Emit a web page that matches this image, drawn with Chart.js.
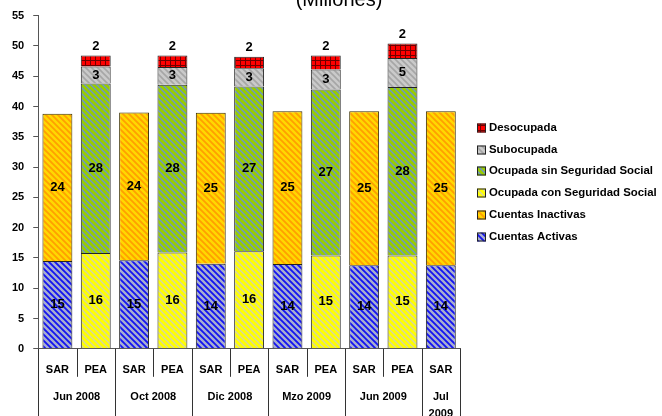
<!DOCTYPE html>
<html>
<head>
<meta charset="utf-8">
<script src="https://cdn.jsdelivr.net/npm/chart.js@4.4.0/dist/chart.umd.min.js"></script>
<style>
  html, body { margin: 0; padding: 0; background: #fff; }
  #wrap { width: 662px; height: 416px; }
</style>
</head>
<body>
<div id="wrap"><canvas id="grafica"></canvas></div>
<script>
// categorias del eje x (SAR / PEA por periodo)
var barras = ['SAR', 'PEA', 'SAR', 'PEA', 'SAR', 'PEA', 'SAR', 'PEA', 'SAR', 'PEA', 'SAR'];
var periodos = ['Jun 2008', 'Oct 2008', 'Dic 2008', 'Mzo 2009', 'Jun 2009', ['Jul', '2009']];
var periodoInicio = [0, 2, 4, 6, 8, 10]; // primer indice de cada periodo
var periodoFin = [2, 4, 6, 8, 10, 11];

// valores en millones
var cuentasActivas   = [14.5, null, 14.6, null, 14.05, null, 14.0, null, 13.8, null, 13.8];
var cuentasInactivas = [24.3, null, 24.4, null, 24.9, null, 25.2, null, 25.4, null, 25.4];
var ocupadaConSS     = [null, 15.8, null, 15.9, null, 16.1, null, 15.4, null, 15.4, null];
var ocupadaSinSS     = [null, 28.0, null, 27.7, null, 27.2, null, 27.4, null, 27.8, null];
var subocupada       = [null, 2.8, null, 2.9, null, 3.0, null, 3.3, null, 4.8, null];
var desocupada       = [null, 1.8, null, 1.9, null, 1.9, null, 2.3, null, 2.4, null];

var titulo = '(Millones)';

var ctx = document.getElementById('grafica').getContext('2d');

// tramas de relleno tipo Excel
function rayas(fondo, linea, s, w) {
    var c = document.createElement('canvas');
    c.width = s; c.height = s;
    var x = c.getContext('2d');
    x.fillStyle = fondo;
    x.fillRect(0, 0, s, s);
    x.strokeStyle = linea;
    x.lineWidth = w;
    x.beginPath();
    x.moveTo(-1, -1); x.lineTo(s + 1, s + 1);
    x.moveTo(-1, s - 1); x.lineTo(1, s + 1);
    x.moveTo(s - 1, -1); x.lineTo(s + 1, 1);
    x.stroke();
    return ctx.createPattern(c, 'repeat');
}

function cuadricula(fondo, linea, s) {
    var c = document.createElement('canvas');
    c.width = s; c.height = s;
    var x = c.getContext('2d');
    x.fillStyle = fondo;
    x.fillRect(0, 0, s, s);
    x.fillStyle = linea;
    x.fillRect(0, 0, s, 1);
    x.fillRect(0, 0, 1, s);
    return ctx.createPattern(c, 'repeat');
}

var fuente = 'Liberation Sans, Arial, sans-serif';

// etiquetas de valores sobre los segmentos
var etiquetas = {
    id: 'etiquetas',
    afterDatasetsDraw: function (chart) {
        var c = chart.ctx;
        c.save();
        c.font = 'bold 13px ' + fuente;
        c.fillStyle = '#000';
        c.textAlign = 'center';
        c.textBaseline = 'middle';
        chart.data.datasets.forEach(function (ds, i) {
            var meta = chart.getDatasetMeta(i);
            meta.data.forEach(function (el, j) {
                var v = ds.data[j];
                if (v === null) return;
                var txt = String(Math.round(v));
                if (ds.label === 'Desocupada') {
                    c.fillText(txt, el.x, el.y - 9);
                } else {
                    c.fillText(txt, el.x, (el.y + el.base) / 2);
                }
            });
        });
        c.restore();
    }
};

// eje x de dos niveles
var ejeGrupos = {
    id: 'ejeGrupos',
    afterDraw: function (chart) {
        var c = chart.ctx;
        var sx = chart.scales.x;
        var abajo = chart.chartArea.bottom;
        var paso = sx.getPixelForValue(1) - sx.getPixelForValue(0);
        c.save();
        c.strokeStyle = '#333';
        c.lineWidth = 1;
        // separadores cortos entre SAR y PEA
        for (var i = 1; i < barras.length; i++) {
            var px = Math.round(sx.getPixelForValue(i) - paso / 2) + 0.5;
            c.beginPath();
            c.moveTo(px, abajo);
            c.lineTo(px, abajo + 28);
            c.stroke();
        }
        // separadores largos entre periodos
        var bordes = [0].concat(periodoFin);
        bordes.forEach(function (b) {
            var px = Math.round(sx.getPixelForValue(b) - paso / 2) + 0.5;
            c.beginPath();
            c.moveTo(px, abajo);
            c.lineTo(px, chart.height);
            c.stroke();
        });
        c.font = 'bold 11px ' + fuente;
        c.fillStyle = '#000';
        c.textAlign = 'center';
        c.textBaseline = 'middle';
        periodos.forEach(function (p, k) {
            var x0 = sx.getPixelForValue(periodoInicio[k]) - paso / 2;
            var x1 = sx.getPixelForValue(periodoFin[k]) - paso / 2;
            var lineas = Array.isArray(p) ? p : [p];
            lineas.forEach(function (t, n) {
                c.fillText(t, (x0 + x1) / 2, abajo + 48 + n * 17);
            });
        });
        c.restore();
    }
};

// leyenda y titulo dibujados a mano (la leyenda nativa se recorta)
var leyenda = {
    id: 'leyenda',
    afterDraw: function (chart) {
        var c = chart.ctx;
        var area = chart.chartArea;
        var sets = chart.data.datasets.slice().reverse();
        var paso = 21.8;
        var x = area.right + 17;
        var y0 = (area.top + area.bottom) / 2 - paso * (sets.length - 1) / 2;
        c.save();
        c.font = 'bold 11.4px ' + fuente;
        c.textBaseline = 'middle';
        c.textAlign = 'left';
        sets.forEach(function (ds, k) {
            var y = Math.round(y0 + k * paso);
            c.fillStyle = ds.backgroundColor;
            c.fillRect(x, y - 4.5, 9, 9);
            c.strokeStyle = '#222';
            c.lineWidth = 1;
            c.strokeRect(x + 0.5, y - 4, 8, 8);
            c.fillStyle = '#000';
            c.fillText(ds.label, x + 12, y);
        });
        // titulo (cortado por el borde superior, como en el original)
        c.font = '20px ' + fuente;
        c.textAlign = 'center';
        c.textBaseline = 'alphabetic';
        c.fillText(titulo, 339, 6);
        c.restore();
    }
};

var borde = '#222';

new Chart(ctx, {
    type: 'bar',
    data: {
        labels: barras,
        datasets: [
            { label: 'Cuentas Activas', data: cuentasActivas, backgroundColor: rayas('#1414F0', '#A8AED0', 6, 2.4), borderColor: borde, borderWidth: 1 },
            { label: 'Cuentas Inactivas', data: cuentasInactivas, backgroundColor: rayas('#FFA000', '#FFD800', 6, 2.4), borderColor: '#3a3000', borderWidth: 1 },
            { label: 'Ocupada con Seguridad Social', data: ocupadaConSS, backgroundColor: rayas('#FFFF00', '#D4D4A8', 6, 1.3), borderColor: borde, borderWidth: 1 },
            { label: 'Ocupada sin Seguridad Social', data: ocupadaSinSS, backgroundColor: rayas('#99CC00', '#6A94D0', 6, 1.3), borderColor: borde, borderWidth: 1 },
            { label: 'Subocupada', data: subocupada, backgroundColor: rayas('#CACACA', '#A6A6A6', 6, 1.6), borderColor: borde, borderWidth: 1 },
            { label: 'Desocupada', data: desocupada, backgroundColor: cuadricula('#FF0000', '#700000', 5), borderColor: borde, borderWidth: 1 }
        ]
    },
    options: {
        responsive: true,
        maintainAspectRatio: false,
        animation: false,
        layout: { padding: { left: 3, top: 15, right: 202, bottom: 32 } },
        datasets: { bar: { barPercentage: 0.78, categoryPercentage: 1, skipNull: false } },
        scales: {
            x: {
                stacked: true,
                grid: { display: false },
                border: { display: true, color: '#555' },
                ticks: { color: '#000', font: { family: fuente, size: 11, weight: 'bold' }, padding: 7, maxRotation: 0, autoSkip: false }
            },
            y: {
                stacked: true,
                min: 0,
                max: 55,
                grid: { drawOnChartArea: false, drawTicks: true, tickLength: 5, color: '#555' },
                border: { display: true, color: '#555' },
                ticks: { stepSize: 5, color: '#000', font: { family: fuente, size: 11, weight: 'bold' }, padding: 9 }
            }
        },
        plugins: {
            title: { display: false },
            legend: { display: false },
            tooltip: { enabled: false }
        }
    },
    plugins: [etiquetas, ejeGrupos, leyenda]
});
</script>
</body>
</html>
